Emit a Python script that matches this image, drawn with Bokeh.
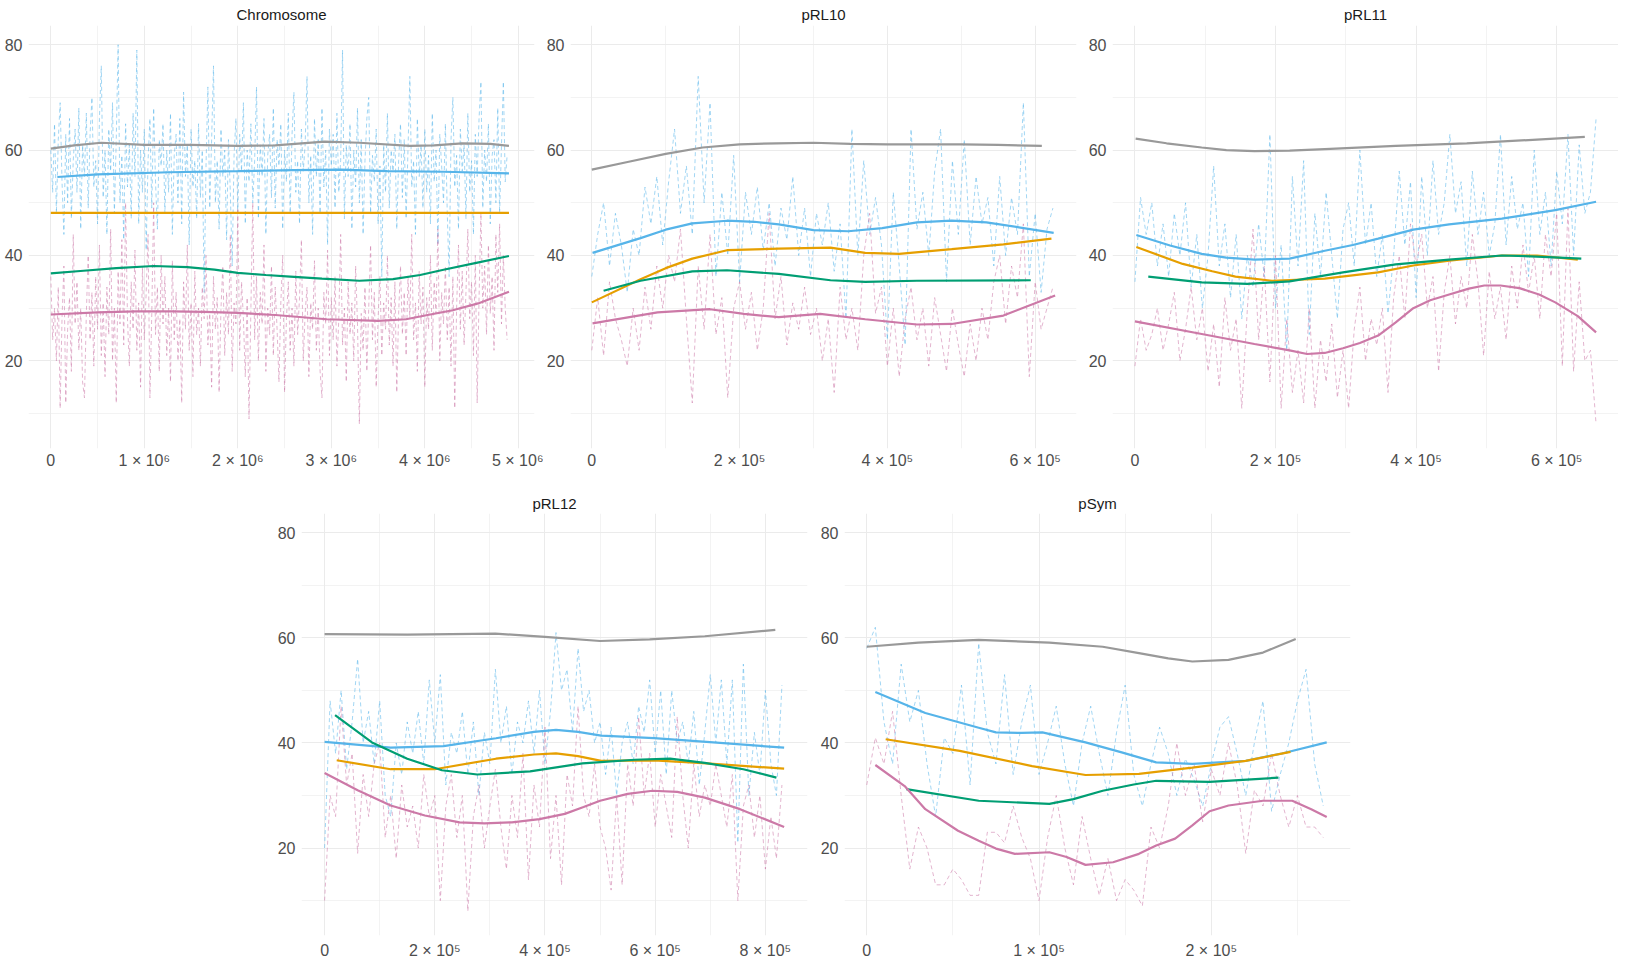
import numpy as np
from bokeh.plotting import figure
from bokeh.layouts import row, column
from bokeh.models import Range1d, FixedTicker, Spacer
from bokeh.embed import file_html
from bokeh.resources import INLINE

# ---------------- data ----------------
# window values (dashed traces); windows are evenly spaced, step in bp
chrom_step = 20000
chrom_blue = [60, 52, 65, 48, 62, 69, 54, 44, 63, 50,
              66, 47, 58, 64, 52, 68, 45, 61, 55, 67,
              49, 63, 70, 53, 58, 46, 66, 76, 51, 60,
              44, 64, 56, 69, 48, 62, 80, 50, 59, 43,
              65, 53, 61, 47, 67, 55, 79, 46, 60, 52,
              64, 41, 58, 66, 49, 68, 54, 45, 62, 57,
              65, 48, 60, 52, 67, 44, 59, 63, 50, 66,
              46, 71, 55, 61, 42, 64, 53, 58, 47, 65,
              51, 60, 33, 57, 72, 49, 62, 76, 50, 58,
              45, 64, 55, 60, 43, 62, 52, 38, 59, 66,
              48, 63, 56, 69, 46, 60, 54, 65, 50, 58,
              72, 47, 61, 55, 66, 44, 59, 63, 51, 68,
              49, 62, 57, 65, 45, 60, 54, 67, 48, 63,
              71, 52, 58, 46, 64, 56, 61, 74, 50, 59,
              44, 66, 55, 62, 48, 68, 53, 60, 42, 64,
              57, 63, 49, 67, 52, 58, 79, 47, 61, 55,
              65, 45, 60, 53, 68, 50, 62, 44, 58, 66,
              70, 48, 59, 54, 64, 46, 57, 36, 61, 52,
              67, 49, 60, 56, 63, 45, 58, 65, 51, 62,
              47, 60, 74, 53, 58, 44, 66, 55, 61, 49,
              64, 52, 59, 46, 67, 54, 60, 42, 63, 57,
              50, 65, 48, 36, 62, 70, 53, 59, 45, 64,
              56, 61, 47, 67, 52, 58, 44, 63, 55, 66,
              73, 49, 60, 54, 65, 46, 59, 62, 50, 68,
              48, 61, 73, 54, 59]
chrom_pink = [36, 24, 30, 20, 34, 11, 28, 38, 12, 26,
              32, 18, 44, 27, 35, 22, 30, 16, 13, 29,
              40, 24, 33, 19, 36, 26, 42, 21, 31, 17,
              34, 25, 45, 20, 30, 12, 37, 27, 43, 23,
              50, 28, 19, 35, 26, 41, 22, 31, 15, 38,
              24, 33, 44, 13, 29, 50, 25, 34, 18, 40,
              27, 36, 21, 30, 16, 39, 24, 33, 20, 28,
              12, 35, 26, 42, 22, 31, 17, 37, 25, 30,
              19, 34, 28, 40, 23, 29, 15, 36, 26, 32,
              14, 30, 38, 21, 33, 25, 44, 18, 31, 27,
              49, 22, 35, 28, 17, 32, 9, 30, 50, 24,
              36, 20, 33, 27, 42, 18, 30, 25, 38, 21,
              34, 26, 16, 31, 40, 14, 28, 35, 22, 30,
              19, 37, 25, 32, 43, 20, 29, 34, 17, 31,
              26, 39, 22, 30, 18, 13, 33, 27, 41, 21,
              32, 24, 36, 19, 28, 44, 23, 30, 16, 35,
              25, 31, 20, 38, 27, 8, 29, 22, 34, 18,
              30, 42, 24, 33, 15, 28, 36, 21, 31, 26,
              40, 23, 32, 19, 35, 14, 29, 38, 25, 33,
              21, 36, 28, 44, 24, 31, 18, 37, 27, 34,
              15, 32, 26, 40, 22, 35, 29, 45, 20, 33,
              27, 38, 24, 34, 19, 36, 11, 30, 42, 26,
              37, 23, 33, 45, 28, 35, 21, 40, 12, 32,
              48, 30, 38, 25, 42, 29, 36, 22, 44, 33,
              46, 27, 40, 30, 24]

prl10_step = 8000
prl10_blue = [36, 44, 50, 38, 48, 42, 33, 45, 40, 53,
              46, 55, 42, 54, 64, 48, 57, 44, 74, 50,
              69, 36, 52, 40, 59, 35, 52, 44, 53, 41,
              50, 38, 49, 43, 55, 40, 49, 36, 48, 42,
              50, 37, 46, 28, 64, 40, 58, 44, 51, 42,
              24, 52, 38, 23, 64, 45, 52, 40, 56, 64,
              35, 58, 44, 62, 42, 55, 46, 51, 38, 55,
              40, 51, 44, 69, 36, 48, 33, 45, 49]
prl10_pink = [22, 32, 21, 35, 28, 24, 19, 30, 22, 34,
              26, 38, 30, 40, 35, 45, 28, 12, 38, 26,
              44, 25, 32, 13, 30, 35, 26, 33, 22, 30,
              48, 28, 36, 23, 31, 26, 34, 25, 30, 20,
              28, 14, 34, 24, 30, 22, 40, 48, 29, 34,
              19, 30, 17, 28, 34, 24, 30, 19, 32, 25,
              18, 30, 23, 17, 27, 20, 30, 24, 35, 40,
              27, 38, 32, 46, 17, 35, 26, 30, 34]

prl11_step = 8000
prl11_blue = [35, 51, 44, 50, 38, 46, 36, 48, 40, 50,
              34, 44, 30, 40, 57, 38, 46, 32, 44, 28,
              40, 34, 46, 36, 63, 30, 42, 22, 55, 38,
              58, 25, 48, 36, 52, 40, 28, 45, 50, 38,
              60, 42, 50, 36, 44, 29, 40, 56, 42, 54,
              32, 55, 40, 58, 44, 50, 63, 48, 54, 38,
              56, 44, 52, 40, 46, 63, 42, 55, 45, 50,
              36, 60, 44, 52, 38, 56, 46, 63, 40, 61,
              48, 52, 66]
prl11_pink = [19, 28, 22, 25, 30, 22, 27, 33, 20, 26,
              34, 24, 30, 18, 27, 15, 32, 22, 28, 11,
              30, 45, 24, 38, 16, 40, 11, 28, 14, 22,
              12, 30, 11, 24, 16, 27, 13, 22, 11, 26,
              34, 20, 28, 23, 30, 14, 32, 40, 28, 46,
              38, 44, 30, 36, 18, 33, 40, 27, 36, 30,
              44, 35, 21, 37, 28, 34, 24, 38, 30, 42,
              33, 40, 28, 44, 36, 48, 19, 49, 18, 35,
              20, 22, 8]

prl12_step = 10000
prl12_blue = [20, 48, 38, 50, 35, 44, 56, 40, 46, 36,
              48, 30, 26, 40, 34, 44, 38, 46, 36, 52,
              40, 53, 32, 42, 38, 46, 34, 44, 30, 42,
              36, 54, 40, 47, 34, 44, 40, 48, 38, 50,
              36, 46, 61, 50, 54, 42, 58, 46, 50, 40,
              44, 34, 43, 30, 40, 44, 36, 47, 42, 52,
              38, 50, 34, 50, 40, 44, 36, 46, 32, 42,
              53, 40, 52, 36, 52, 21, 55, 30, 42, 34,
              50, 36, 30, 51]
prl12_pink = [10, 30, 26, 47, 32, 38, 19, 34, 26, 36,
              40, 22, 30, 18, 32, 24, 28, 20, 34, 26,
              30, 10, 28, 34, 22, 30, 8, 26, 32, 20,
              28, 35, 24, 16, 30, 22, 38, 14, 32, 24,
              43, 18, 30, 13, 34, 28, 47, 30, 26, 36,
              24, 20, 12, 30, 13, 36, 28, 45, 30, 38,
              24, 34, 28, 22, 45, 30, 20, 36, 26, 32,
              28, 36, 30, 24, 34, 10, 28, 32, 22, 30,
              16, 26, 18, 32]

psym_step = 5000
psym_blue = [58, 62, 44, 36, 55, 44, 50, 36, 26, 41,
             38, 51, 32, 59, 42, 36, 53, 34, 44, 51,
             34, 40, 47, 36, 28, 40, 47, 38, 30, 42,
             51, 34, 28, 36, 43, 38, 30, 37, 33, 28,
             36, 43, 45, 38, 30, 40, 48, 27, 34, 40,
             48, 54, 36, 28]
psym_pink = [32, 41, 36, 46, 30, 16, 24, 20, 13, 13,
             16, 14, 11, 11, 23, 23, 21, 28, 22, 18,
             10, 22, 30, 20, 13, 26, 18, 11, 18, 10,
             14, 12, 9, 24, 20, 28, 40, 30, 36, 25,
             35, 30, 40, 32, 19, 31, 28, 38, 30, 24,
             30, 24, 24, 22]

# smoothed trends (solid); x in kb
chrom_gray_x = [0, 250, 540, 1000, 1500, 2000, 2400, 2930, 3300, 3840, 4100, 4400, 4700, 4900]
chrom_gray_y = [60.3, 60.9, 61.4, 61.0, 61.0, 60.8, 60.9, 61.6, 61.4, 60.8, 60.9, 61.3, 61.2, 60.8]
chrom_sky_x = [70, 500, 1270, 2000, 2600, 3100, 3600, 4200, 4900]
chrom_sky_y = [54.9, 55.4, 55.8, 56.0, 56.2, 56.3, 56.0, 55.9, 55.6]
chrom_orange_x = [0, 4900]
chrom_orange_y = [48.1, 48.1]
chrom_green_x = [0, 350, 700, 1100, 1460, 1750, 2000, 2300, 2560, 2900, 3300, 3660, 3950, 4200, 4550, 4900]
chrom_green_y = [36.6, 37.1, 37.6, 38.0, 37.8, 37.3, 36.7, 36.3, 36.0, 35.6, 35.2, 35.5, 36.3, 37.3, 38.6, 39.9]
chrom_purple_x = [0, 500, 910, 1300, 1640, 2000, 2400, 2950, 3500, 3800, 4030, 4300, 4570, 4900]
chrom_purple_y = [28.8, 29.2, 29.4, 29.4, 29.3, 29.1, 28.7, 27.9, 27.6, 27.9, 28.7, 29.6, 30.9, 33.1]

prl10_gray_x = [0, 50, 100, 150, 200, 250, 300, 350, 400, 450, 500, 550, 609]
prl10_gray_y = [56.3, 57.8, 59.3, 60.5, 61.1, 61.3, 61.4, 61.2, 61.1, 61.1, 61.1, 61.0, 60.8]
prl10_sky_x = [1, 66, 100, 136, 183, 220, 253, 300, 347, 393, 440, 487, 534, 580, 625]
prl10_sky_y = [40.5, 43.3, 44.9, 46.1, 46.6, 46.4, 45.9, 44.8, 44.6, 45.2, 46.3, 46.6, 46.3, 45.3, 44.3]
prl10_orange_x = [0, 66, 100, 136, 183, 253, 323, 370, 416, 487, 557, 622]
prl10_orange_y = [31.1, 35.5, 37.6, 39.4, 41.0, 41.3, 41.5, 40.5, 40.3, 41.2, 42.1, 43.2]
prl10_green_x = [16, 66, 136, 183, 253, 323, 370, 440, 594]
prl10_green_y = [33.3, 35.2, 37.0, 37.2, 36.5, 35.3, 35.0, 35.2, 35.3]
prl10_purple_x = [1, 89, 160, 206, 253, 309, 370, 440, 487, 557, 627]
prl10_purple_y = [27.1, 29.2, 29.8, 28.9, 28.3, 28.9, 27.9, 26.9, 27.0, 28.6, 32.4]

prl11_gray_x = [1, 45, 95, 130, 170, 220, 270, 371, 472, 572, 640]
prl11_gray_y = [62.2, 61.3, 60.5, 60.0, 59.8, 59.9, 60.2, 60.8, 61.3, 62.0, 62.5]
prl11_sky_x = [2, 50, 95, 130, 170, 220, 270, 310, 346, 396, 447, 522, 598, 656]
prl11_sky_y = [43.9, 41.9, 40.3, 39.6, 39.2, 39.4, 40.9, 42.0, 43.2, 44.9, 45.9, 47.0, 48.6, 50.2]
prl11_orange_x = [2, 68, 110, 143, 195, 270, 346, 396, 447, 522, 572, 630]
prl11_orange_y = [41.6, 38.4, 37.0, 36.0, 35.2, 35.6, 36.8, 38.1, 39.0, 40.0, 40.0, 39.2]
prl11_green_x = [19, 95, 160, 220, 296, 371, 447, 522, 572, 635]
prl11_green_y = [36.0, 34.9, 34.6, 35.1, 36.8, 38.3, 39.2, 40.0, 39.8, 39.4]
prl11_purple_x = [0, 95, 170, 220, 245, 270, 296, 320, 346, 371, 396, 420, 447, 475, 497, 520, 547, 575, 598, 630, 656]
prl11_purple_y = [27.5, 25.1, 23.2, 22.0, 21.3, 21.5, 22.4, 23.4, 24.8, 27.3, 30.0, 31.5, 32.6, 33.7, 34.3, 34.3, 33.8, 32.6, 31.1, 28.5, 25.4]

prl12_gray_x = [0, 150, 310, 400, 500, 590, 690, 818]
prl12_gray_y = [60.7, 60.6, 60.8, 60.2, 59.4, 59.7, 60.3, 61.5]
prl12_sky_x = [0, 120, 216, 311, 380, 420, 460, 502, 598, 693, 834]
prl12_sky_y = [40.2, 39.1, 39.4, 40.9, 42.1, 42.5, 42.1, 41.4, 40.9, 40.2, 39.1]
prl12_orange_x = [22, 120, 200, 311, 380, 420, 460, 502, 598, 693, 834]
prl12_orange_y = [36.7, 35.0, 35.0, 37.0, 37.8, 38.0, 37.5, 36.6, 36.7, 36.1, 35.1]
prl12_green_x = [19, 86, 150, 213, 277, 373, 468, 563, 627, 690, 760, 820]
prl12_green_y = [45.3, 40.1, 37.0, 34.8, 34.0, 34.6, 36.1, 36.8, 37.0, 36.2, 35.0, 33.4]
prl12_purple_x = [0, 60, 120, 182, 245, 290, 340, 390, 436, 470, 500, 550, 595, 640, 690, 754, 834]
prl12_purple_y = [34.3, 31.0, 28.1, 26.2, 24.9, 24.7, 24.9, 25.5, 26.5, 27.8, 29.0, 30.3, 30.9, 30.7, 29.6, 27.4, 24.0]

psym_gray_x = [0, 30, 65, 106, 137, 158, 175, 189, 210, 230, 249]
psym_gray_y = [58.3, 59.1, 59.6, 59.1, 58.3, 57.1, 56.1, 55.5, 55.8, 57.2, 59.8]
psym_sky_x = [5, 34, 65, 75, 90, 102, 127, 148, 168, 189, 220, 241, 267]
psym_sky_y = [49.7, 45.7, 42.9, 42.0, 41.9, 42.0, 40.1, 38.2, 36.3, 36.0, 36.6, 38.0, 40.1]
psym_orange_x = [11, 54, 96, 127, 158, 189, 220, 246]
psym_orange_y = [40.7, 38.5, 35.6, 33.9, 34.1, 35.3, 36.6, 38.3]
psym_green_x = [23, 65, 106, 120, 137, 155, 168, 199, 239]
psym_green_y = [31.2, 29.0, 28.4, 29.3, 30.9, 32.1, 32.8, 32.6, 33.4]
psym_purple_x = [5, 22, 34, 53, 65, 75, 86, 106, 116, 127, 143, 158, 168, 179, 189, 199, 210, 230, 247, 258, 267]
psym_purple_y = [35.8, 31.8, 27.4, 23.3, 21.4, 19.9, 18.9, 19.2, 18.3, 16.8, 17.3, 18.9, 20.5, 21.8, 24.3, 27.0, 28.1, 29.0, 29.0, 27.4, 25.9]

# tick labels
chrom_ticks = [0, 1000000, 2000000, 3000000, 4000000, 5000000]
chrom_tick_labels = ["0", "1 × 10⁶", "2 × 10⁶", "3 × 10⁶", "4 × 10⁶", "5 × 10⁶"]
chrom_minor = [500000, 1500000, 2500000, 3500000, 4500000]
prl_ticks = [0, 200000, 400000, 600000]
prl_tick_labels = ["0", "2 × 10⁵", "4 × 10⁵", "6 × 10⁵"]
prl_minor = [100000, 300000, 500000]
prl12_ticks = [0, 200000, 400000, 600000, 800000]
prl12_tick_labels = ["0", "2 × 10⁵", "4 × 10⁵", "6 × 10⁵", "8 × 10⁵"]
prl12_minor = [100000, 300000, 500000, 700000]
psym_ticks = [0, 100000, 200000]
psym_tick_labels = ["0", "1 × 10⁵", "2 × 10⁵"]
psym_minor = [50000, 150000, 250000]
y_ticks = [20, 40, 60, 80]
y_minor = [10, 30, 50, 70]

FONT = "Liberation Sans"
SKY, PURPLE = "#56B4E9", "#CC79A7"
GRAY, ORANGE, GREEN = "#999999", "#E69F00", "#009E73"


def panel(title, xr, ticks, labels, minor, fh, borders, title_gap, xstand, raw, trends):
    bl, br, bt, bb = borders
    p = figure(frame_width=506, frame_height=fh,
               x_range=Range1d(*xr), y_range=Range1d(3.36, 83.66),
               output_backend="svg", toolbar_location=None,
               min_border_left=bl, min_border_right=br,
               min_border_top=bt, min_border_bottom=bb,
               background_fill_color="white", border_fill_color="white")
    p.outline_line_color = None
    p.title.text = title
    p.title.align = "center"
    p.title.text_font = FONT
    p.title.text_font_size = "15px"
    p.title.text_font_style = "normal"
    p.title.text_color = "#1a1a1a"
    p.title.standoff = title_gap

    p.xaxis.ticker = FixedTicker(ticks=ticks, minor_ticks=minor)
    p.xaxis.major_label_overrides = dict(zip(ticks, labels))
    p.yaxis.ticker = FixedTicker(ticks=y_ticks, minor_ticks=y_minor)
    for ax in (p.xaxis, p.yaxis):
        ax.axis_line_color = None
        ax.major_tick_line_color = None
        ax.minor_tick_line_color = None
        ax.major_tick_in = 0
        ax.major_tick_out = 0
        ax.minor_tick_in = 0
        ax.minor_tick_out = 0
        ax.major_label_text_font = FONT
        ax.major_label_text_font_size = "16px"
        ax.major_label_text_color = "#4d4d4d"
    p.xaxis.major_label_standoff = xstand
    p.yaxis.major_label_standoff = 6
    for g in (p.xgrid, p.ygrid):
        g.grid_line_color = "#ebebeb"
        g.grid_line_width = 1
        g.minor_grid_line_color = "#ebebeb"
        g.minor_grid_line_width = 0.6

    step, blue, pink = raw
    p.line(np.arange(len(blue)) * step, blue, line_color=SKY, line_alpha=0.55,
           line_width=1, line_dash="4 3")
    p.line(np.arange(len(pink)) * step, pink, line_color=PURPLE, line_alpha=0.55,
           line_width=1, line_dash="4 3")
    for (xs, ys), col in zip(trends, (GRAY, SKY, ORANGE, GREEN, PURPLE)):
        p.line(np.array(xs) * 1000, ys, line_color=col, line_width=2.2)
    return p


p1 = panel("Chromosome", (-238500, 5173000), chrom_ticks, chrom_tick_labels, chrom_minor, 423,
           (28, 9, 23, 42), 6, 3, (chrom_step, chrom_blue, chrom_pink),
           [(chrom_gray_x, chrom_gray_y), (chrom_sky_x, chrom_sky_y), (chrom_orange_x, chrom_orange_y),
            (chrom_green_x, chrom_green_y), (chrom_purple_x, chrom_purple_y)])
p2 = panel("pRL10", (-28800, 655900), prl_ticks, prl_tick_labels, prl_minor, 423,
           (27, 9, 23, 42), 6, 3, (prl10_step, prl10_blue, prl10_pink),
           [(prl10_gray_x, prl10_gray_y), (prl10_sky_x, prl10_sky_y), (prl10_orange_x, prl10_orange_y),
            (prl10_green_x, prl10_green_y), (prl10_purple_x, prl10_purple_y)])
p3 = panel("pRL11", (-31900, 687900), prl_ticks, prl_tick_labels, prl_minor, 423,
           (25, 0, 23, 42), 6, 3, (prl11_step, prl11_blue, prl11_pink),
           [(prl11_gray_x, prl11_gray_y), (prl11_sky_x, prl11_sky_y), (prl11_orange_x, prl11_orange_y),
            (prl11_green_x, prl11_green_y), (prl11_purple_x, prl11_purple_y)])
p4 = panel("pRL12", (-41900, 876400), prl12_ticks, prl12_tick_labels, prl12_minor, 422,
           (25, 10, 21, 24), 4, 6, (prl12_step, prl12_blue, prl12_pink),
           [(prl12_gray_x, prl12_gray_y), (prl12_sky_x, prl12_sky_y), (prl12_orange_x, prl12_orange_y),
            (prl12_green_x, prl12_green_y), (prl12_purple_x, prl12_purple_y)])
p5 = panel("pSym", (-12900, 280800), psym_ticks, psym_tick_labels, psym_minor, 422,
           (25, 3, 21, 24), 4, 6, (psym_step, psym_blue, psym_pink),
           [(psym_gray_x, psym_gray_y), (psym_sky_x, psym_sky_y), (psym_orange_x, psym_orange_y),
            (psym_green_x, psym_green_y), (psym_purple_x, psym_purple_y)])

layout = column(row(p1, p2, p3), row(Spacer(width=274), p4, p5))

open("out.html", "w").write(file_html(layout, INLINE))
